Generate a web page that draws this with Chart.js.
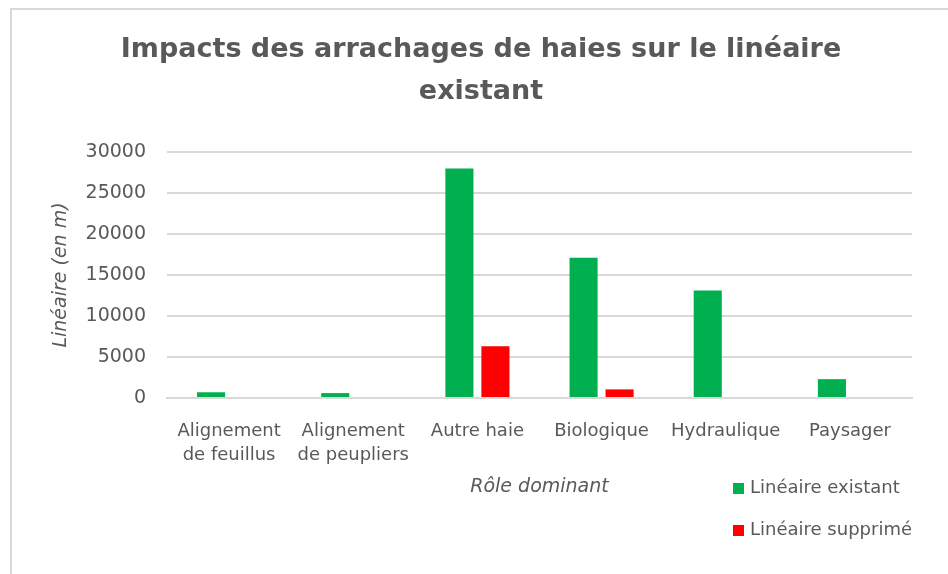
<!DOCTYPE html>
<html>
<head>
<meta charset="utf-8">
<script src="https://cdn.jsdelivr.net/npm/chart.js@4/dist/chart.umd.min.js"></script>
<style>
  html, body { margin: 0; padding: 0; background: #fff; overflow: hidden; }
  #frame { position: absolute; left: 10px; top: 8px; width: 1000px; height: 620px; border: 2px solid #d9d9d9; box-sizing: border-box; }
  #wrap { position: absolute; left: 0; top: 0; width: 948px; height: 574px; }
</style>
</head>
<body>
<div id="frame"></div>
<div id="wrap"><canvas id="chart"></canvas></div>
<script>
// Données
const categories = [['Alignement', 'de feuillus'], ['Alignement', 'de peupliers'], 'Autre haie', 'Biologique', 'Hydraulique', 'Paysager'];
const existant = [700, 600, 28000, 17100, 13100, 2300];
const supprime = [0, 0, 6300, 1050, 0, 0];
const yTicks = [0, 5000, 10000, 15000, 20000, 25000, 30000];

const grey = '#595959';
const bodyFont = 'DejaVu Sans';

// Légende dessinée à droite sous l'axe
const sideLegend = {
    id: 'sideLegend',
    afterDraw(chart) {
        const ctx = chart.ctx;
        const x = chart.chartArea.right - 179;
        const rows = [chart.chartArea.bottom + 90, chart.chartArea.bottom + 132];
        ctx.save();
        ctx.font = '18px "' + bodyFont + '"';
        ctx.textBaseline = 'middle';
        chart.data.datasets.forEach((ds, i) => {
            ctx.fillStyle = ds.backgroundColor;
            ctx.fillRect(x, rows[i] - 5, 11, 11);
            ctx.fillStyle = grey;
            ctx.fillText(ds.label, x + 17, rows[i]);
        });
        ctx.restore();
    }
};

new Chart(document.getElementById('chart'), {
    type: 'bar',
    data: {
        labels: categories,
        datasets: [
            { label: 'Linéaire existant', data: existant, backgroundColor: '#00b050' },
            { label: 'Linéaire supprimé', data: supprime, backgroundColor: '#ff0000' }
        ]
    },
    options: {
        responsive: true,
        maintainAspectRatio: false,
        animation: false,
        categoryPercentage: 0.58,
        barPercentage: 0.78,
        layout: { padding: { left: 50, right: 36, top: 0, bottom: 76 } },
        plugins: {
            legend: { display: false },
            tooltip: { enabled: false },
            title: {
                display: true,
                text: ['Impacts des arrachages de haies sur le linéaire', 'existant'],
                color: grey,
                font: { family: '"DejaVu Sans", sans-serif', size: 27, weight: 'bold', lineHeight: 1.556 },
                padding: { top: 29, bottom: 39 }
            }
        },
        scales: {
            x: {
                grid: { display: false },
                border: { color: '#d9d9d9', width: 2 },
                ticks: { color: grey, font: { family: bodyFont, size: 18, lineHeight: 1.3 }, padding: 14, maxRotation: 0 },
                title: { display: true, text: 'Rôle dominant', color: grey, font: { family: bodyFont, size: 19, style: 'italic' }, padding: { top: 4, bottom: 0 } },
                afterFit(scale) { scale.height = 100; }
            },
            y: {
                min: 0,
                max: 30000,
                grid: { color: '#d9d9d9', lineWidth: 2, drawTicks: false },
                border: { display: false },
                afterBuildTicks(scale) { scale.ticks = yTicks.map(v => ({ value: v })); },
                ticks: { color: grey, font: { family: bodyFont, size: 19 }, padding: 21, callback: v => String(v) },
                title: { display: true, text: 'Linéaire (en m)', color: grey, font: { family: bodyFont, size: 19, style: 'italic' }, padding: 0 },
                afterFit(scale) { scale.width = 117; }
            }
        }
    },
    plugins: [sideLegend]
});
</script>
</body>
</html>
